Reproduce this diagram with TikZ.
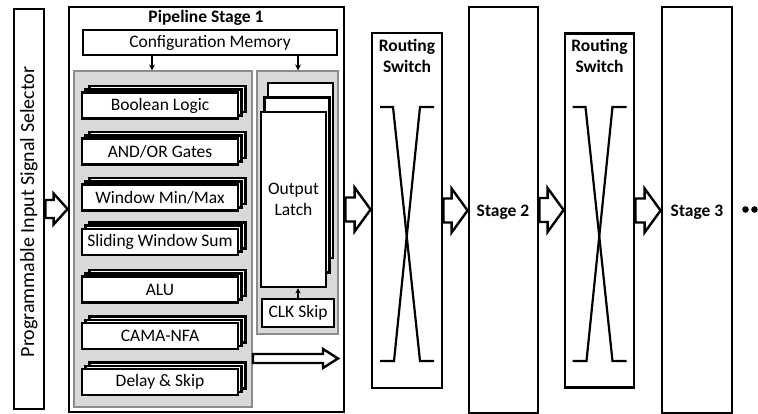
\documentclass[tikz,border=0pt]{standalone}
\usepackage{fontspec}
\setmainfont{Carlito}
\usetikzlibrary{shadows,arrows.meta,calc}
\definecolor{panelgray}{RGB}{217,217,217}
\definecolor{paneledge}{RGB}{140,140,140}
\newcommand{\blockarr}[5]{%
  \draw[barr] let \p1=(#1), \p2=(#2) in
    (\x1,{\y1+#3}) -- ({\x2-#5},{\y1+#3}) -- ({\x2-#5},{\y1+#4}) -- (\x2,\y1)
    -- ({\x2-#5},{\y1-#4}) -- ({\x2-#5},{\y1-#3}) -- (\x1,{\y1-#3}) -- cycle;}
\begin{document}
\begin{tikzpicture}[x=1pt,y=-1pt,
  font=\fontsize{17.5}{21}\selectfont,
  bigbox/.style={draw,line width=2.8pt,fill=white,inner sep=0pt},
  panel/.style={draw=paneledge,line width=1.2pt,fill=panelgray,inner sep=0pt},
  module/.style={draw,line width=2.6pt,fill=white,inner sep=0pt,
    minimum width=156pt,minimum height=26pt,
    double copy shadow={shadow xshift=3.6pt,shadow yshift=3.2pt,draw,fill=white,line width=2.6pt}},
  latch/.style={draw,line width=2.5pt,fill=white,inner sep=0pt,align=center,
    minimum width=65pt,minimum height=175pt,
    double copy shadow={shadow xshift=3.5pt,shadow yshift=14.5pt,draw,fill=white,line width=2.5pt}},
  smallbox/.style={draw,line width=2.5pt,fill=white,inner sep=0pt},
  barr/.style={draw,line width=2.4pt,fill=white,line join=miter},
  thinarr/.style={line width=1.3pt,-{Stealth[length=6pt,width=6pt]}},
  xline/.style={line width=2.2pt},
  btitle/.style={font=\fontsize{17.5}{21}\selectfont\bfseries,align=center,inner sep=0pt}]
\useasboundingbox (0,0) rectangle (758,414);

% selector
\node[bigbox,minimum width=30pt,minimum height=400pt] (sel) at (29,209) {};
\node[rotate=90,inner sep=0pt,font=\fontsize{20}{24}\selectfont] (seltxt) at (29,212) {Programmable Input Signal Selector};

% pipeline stage 1
\node[bigbox,minimum width=275pt,minimum height=405pt] (p1) at (206.5,209.5) {};
\node[btitle] (p1t) at (206,18) {Pipeline Stage 1};
\node[smallbox,minimum width=254pt,minimum height=25pt] (cfg) at (210,42.5) {Configuration Memory};

\node[panel,minimum width=178pt,minimum height=336pt] (lp) at (163,239) {};
\node[panel,minimum width=81pt,minimum height=263pt] (rp) at (297.5,202.5) {};

\node[module] (m1) at (160,105.5) {Boolean Logic};
\node[module] (m2) at (160,151.5) {AND/OR Gates};
\node[module] (m3) at (160,197.5) {Window Min/Max};
\node[module] (m4) at (160,242) {Sliding Window Sum};
\node[module] (m5) at (160,289.5) {ALU};
\node[module] (m6) at (160,336) {CAMA-NFA};
\node[module] (m7) at (160,382) {Delay \& Skip};

\node[latch] (ol) at (293.5,199.5) {Output\\Latch};
\node[smallbox,minimum width=72pt,minimum height=28pt] (clk) at (298,313) {CLK Skip};

\draw[thinarr] (cfg.south -| 152,0) -- (lp.north -| 152,0);
\draw[thinarr] (cfg.south -| 298,0) -- (rp.north -| 298,0);
\draw[line width=1.3pt,-{Stealth[length=5pt,width=5pt]}] (clk.north) -- (ol.south -| clk.north);

\coordinate (ba1) at (253,358.5);
\coordinate (ba2) at (338,358.5);
\blockarr{ba1}{ba2}{4.5pt}{9.5pt}{15pt}

% routing switches and stages
\node[bigbox,minimum width=70pt,minimum height=355pt] (sw1) at (407,210.5) {};
\node[btitle] (sw1t) at (407,56) {Routing\\Switch};
\node[bigbox,minimum width=69pt,minimum height=406pt] (st2) at (503.5,210) {};
\node[btitle] (st2t) at (503,212) {Stage 2};
\node[bigbox,minimum width=69pt,minimum height=354pt] (sw2) at (599.5,210.5) {};
\node[btitle] (sw2t) at (599.5,56) {Routing\\Switch};
\node[bigbox,minimum width=70pt,minimum height=406pt] (st3) at (697,210) {};
\node[btitle] (st3t) at (697,212) {Stage 3};

\foreach \s in {sw1,sw2}{
  \draw[xline] ([shift={(-27,-103.5)}]\s.center) -- ([shift={(-14,-103.5)}]\s.center)
     -- ([shift={(13,150.5)}]\s.center) -- ([shift={(27,150.5)}]\s.center);
  \draw[xline] ([shift={(27,-103.5)}]\s.center) -- ([shift={(13,-103.5)}]\s.center)
     -- ([shift={(-13,150.5)}]\s.center) -- ([shift={(-27,150.5)}]\s.center);
}

% block arrows between blocks
\blockarr{sel.east}{p1.west}{9pt}{15.5pt}{14pt}
\blockarr{p1.east}{sw1.west}{12pt}{22pt}{16pt}
\blockarr{sw1.east}{st2.west}{12pt}{22pt}{16pt}
\blockarr{st2.east}{sw2.west}{12pt}{22pt}{16pt}
\blockarr{sw2.east}{st3.west}{12pt}{22pt}{16pt}

% continuation dots
\fill (745.5,209.5) circle (3.3);
\fill (754.5,209.5) circle (3.3);
\end{tikzpicture}
\end{document}
